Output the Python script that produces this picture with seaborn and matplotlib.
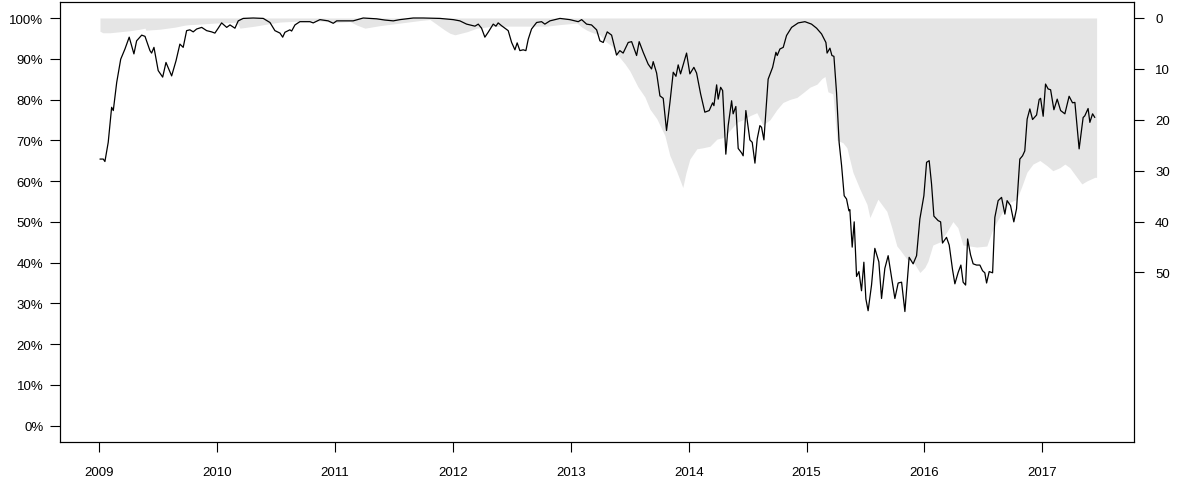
import matplotlib
matplotlib.use("Agg")
import matplotlib.pyplot as plt
import pandas as pd
import seaborn as sns
from matplotlib.ticker import FuncFormatter

# black line: share (%) on the left axis
line_years = [
    2009.006, 2009.034, 2009.048, 2009.076, 2009.105, 2009.119, 2009.148, 2009.182, 2009.218, 2009.254,
    2009.294, 2009.317, 2009.360, 2009.388, 2009.430, 2009.444, 2009.464, 2009.500, 2009.538, 2009.566,
    2009.614, 2009.651, 2009.684, 2009.712, 2009.741, 2009.769, 2009.797, 2009.826, 2009.869, 2009.911,
    2009.953, 2009.981, 2010.009, 2010.038, 2010.081, 2010.109, 2010.151, 2010.179, 2010.221, 2010.306,
    2010.391, 2010.448, 2010.490, 2010.533, 2010.556, 2010.575, 2010.617, 2010.632, 2010.660, 2010.702,
    2010.787, 2010.815, 2010.872, 2010.942, 2010.985, 2011.014, 2011.154, 2011.239, 2011.353, 2011.423,
    2011.494, 2011.550, 2011.663, 2011.748, 2011.890, 2012.003, 2012.059, 2012.116, 2012.187, 2012.215,
    2012.243, 2012.271, 2012.299, 2012.342, 2012.365, 2012.384, 2012.413, 2012.441, 2012.469, 2012.498,
    2012.526, 2012.545, 2012.568, 2012.596, 2012.619, 2012.639, 2012.667, 2012.710, 2012.752, 2012.780,
    2012.823, 2012.908, 2012.992, 2013.063, 2013.092, 2013.134, 2013.176, 2013.219, 2013.247, 2013.275,
    2013.309, 2013.346, 2013.388, 2013.416, 2013.444, 2013.487, 2013.516, 2013.558, 2013.580, 2013.614,
    2013.656, 2013.685, 2013.699, 2013.728, 2013.756, 2013.784, 2013.812, 2013.841, 2013.869, 2013.892,
    2013.911, 2013.931, 2013.982, 2014.010, 2014.044, 2014.067, 2014.101, 2014.137, 2014.174, 2014.203,
    2014.214, 2014.237, 2014.250, 2014.271, 2014.288, 2014.315, 2014.335, 2014.364, 2014.377, 2014.400,
    2014.420, 2014.449, 2014.462, 2014.485, 2014.519, 2014.539, 2014.562, 2014.581, 2014.604, 2014.618,
    2014.638, 2014.674, 2014.712, 2014.740, 2014.751, 2014.774, 2014.802, 2014.830, 2014.873, 2014.929,
    2014.986, 2015.042, 2015.085, 2015.127, 2015.164, 2015.174, 2015.198, 2015.215, 2015.232, 2015.254,
    2015.276, 2015.297, 2015.319, 2015.339, 2015.359, 2015.367, 2015.387, 2015.404, 2015.424, 2015.444,
    2015.466, 2015.486, 2015.503, 2015.522, 2015.551, 2015.579, 2015.613, 2015.636, 2015.664, 2015.692,
    2015.721, 2015.749, 2015.777, 2015.806, 2015.834, 2015.870, 2015.904, 2015.933, 2015.961, 2015.995,
    2016.018, 2016.040, 2016.060, 2016.080, 2016.116, 2016.137, 2016.153, 2016.187, 2016.210, 2016.238,
    2016.258, 2016.286, 2016.309, 2016.328, 2016.349, 2016.366, 2016.391, 2016.413, 2016.442, 2016.470,
    2016.493, 2016.512, 2016.527, 2016.549, 2016.578, 2016.597, 2016.625, 2016.654, 2016.682, 2016.701,
    2016.730, 2016.758, 2016.781, 2016.809, 2016.832, 2016.851, 2016.871, 2016.894, 2016.917, 2016.951,
    2016.973, 2016.985, 2017.007, 2017.027, 2017.049, 2017.070, 2017.098, 2017.126, 2017.155, 2017.191,
    2017.227, 2017.256, 2017.276, 2017.312, 2017.346, 2017.360, 2017.388, 2017.403, 2017.426, 2017.445,
]
line_pct = [
    65.4, 65.4, 64.8, 69.5, 78.1, 77.3, 84.2, 89.9, 92.4, 95.3,
    91.2, 94.4, 95.8, 95.5, 92.0, 91.4, 92.8, 87.1, 85.5, 89.1,
    85.8, 89.5, 93.6, 92.8, 96.9, 97.1, 96.6, 97.3, 97.7, 96.9,
    96.6, 96.3, 97.5, 98.8, 97.7, 98.3, 97.5, 99.3, 99.9, 100.0,
    99.9, 98.9, 96.9, 96.3, 95.3, 96.5, 97.1, 96.8, 98.3, 99.1,
    99.1, 98.8, 99.6, 99.3, 98.7, 99.3, 99.3, 100.0, 99.8, 99.5,
    99.3, 99.6, 100.0, 100.0, 99.9, 99.6, 99.3, 98.5, 98.0, 98.5,
    97.5, 95.3, 96.5, 98.5, 98.0, 98.8, 98.1, 97.5, 96.9, 94.0,
    92.2, 93.9, 92.0, 92.2, 92.0, 94.8, 97.3, 98.9, 99.1, 98.5,
    99.3, 99.9, 99.6, 99.1, 99.6, 98.5, 98.3, 97.1, 94.4, 94.0,
    96.6, 95.8, 90.9, 92.0, 91.4, 94.0, 94.2, 90.8, 94.2, 91.6,
    88.7, 87.5, 89.3, 86.5, 80.9, 80.3, 72.4, 79.3, 86.7, 85.7,
    88.5, 86.3, 91.4, 86.3, 87.9, 86.5, 81.4, 76.9, 77.3, 79.2,
    78.5, 83.6, 80.1, 83.0, 82.2, 66.6, 73.6, 79.7, 76.5, 78.3,
    68.0, 66.9, 66.2, 77.3, 70.1, 69.5, 64.4, 70.3, 73.6, 73.2,
    70.1, 85.0, 87.9, 91.6, 90.8, 92.4, 92.8, 95.7, 97.7, 98.8,
    99.1, 98.5, 97.5, 96.1, 94.0, 91.4, 92.6, 90.8, 90.6, 81.8,
    69.5, 63.8, 56.4, 55.6, 52.7, 53.0, 43.8, 50.0, 36.6, 37.8,
    33.1, 40.1, 31.1, 28.2, 34.5, 43.5, 40.2, 31.2, 38.6, 41.7,
    36.4, 31.2, 35.0, 35.2, 28.0, 41.3, 39.7, 41.7, 50.7, 56.4,
    64.6, 65.0, 59.3, 51.4, 50.3, 50.0, 44.8, 46.2, 44.3, 38.3,
    34.8, 37.6, 39.4, 35.2, 34.5, 45.8, 41.9, 39.7, 39.4, 39.4,
    38.0, 37.5, 35.0, 37.8, 37.5, 51.1, 55.2, 56.0, 51.9, 55.2,
    54.0, 50.0, 53.2, 65.4, 66.2, 67.4, 75.2, 77.7, 75.1, 76.2,
    80.0, 80.3, 75.9, 83.8, 82.6, 82.4, 77.5, 80.1, 77.3, 76.5,
    80.8, 79.2, 79.3, 67.9, 75.6, 76.0, 77.8, 74.4, 76.5, 75.6,
]

# grey area: depth on the inverted right axis
gray_years = [
    2009.006, 2009.031, 2009.091, 2009.176, 2009.261, 2009.346, 2009.388, 2009.396, 2009.515, 2009.642,
    2009.727, 2009.769, 2009.854, 2009.981, 2010.109, 2010.168, 2010.193, 2010.321, 2010.448, 2010.533,
    2010.617, 2010.702, 2010.872, 2010.999, 2011.126, 2011.186, 2011.254, 2011.381, 2011.551, 2011.720,
    2011.805, 2011.848, 2011.890, 2011.933, 2011.975, 2012.017, 2012.119, 2012.204, 2012.314, 2012.484,
    2012.653, 2012.797, 2012.908, 2013.052, 2013.094, 2013.136, 2013.187, 2013.247, 2013.289, 2013.348,
    2013.391, 2013.459, 2013.501, 2013.569, 2013.628, 2013.671, 2013.730, 2013.798, 2013.840, 2013.899,
    2013.950, 2013.976, 2014.010, 2014.069, 2014.120, 2014.180, 2014.239, 2014.290, 2014.349, 2014.408,
    2014.460, 2014.519, 2014.578, 2014.629, 2014.689, 2014.748, 2014.799, 2014.858, 2014.918, 2014.969,
    2015.028, 2015.088, 2015.130, 2015.156, 2015.181, 2015.223, 2015.257, 2015.308, 2015.342, 2015.393,
    2015.452, 2015.512, 2015.537, 2015.605, 2015.681, 2015.723, 2015.766, 2015.791, 2015.851, 2015.902,
    2015.961, 2016.003, 2016.029, 2016.071, 2016.131, 2016.190, 2016.241, 2016.283, 2016.326, 2016.385,
    2016.444, 2016.529, 2016.571, 2016.614, 2016.665, 2016.725, 2016.784, 2016.827, 2016.869, 2016.920,
    2016.979, 2017.039, 2017.089, 2017.149, 2017.191, 2017.233, 2017.293, 2017.335, 2017.378, 2017.445,
    2017.460,
]
gray_depth = [
    2.6, 2.9, 2.9, 2.7, 2.5, 2.2, 2.0, 2.4, 2.2, 1.8,
    1.4, 1.3, 1.2, 1.0, 0.9, 0.8, 2.0, 1.6, 1.1, 0.8,
    0.7, 0.6, 0.6, 0.9, 0.7, 1.4, 2.0, 1.5, 1.0, 0.5,
    0.3, 1.0, 1.7, 2.4, 3.0, 3.3, 2.7, 2.0, 1.7, 1.6,
    1.6, 1.6, 1.3, 1.0, 1.8, 2.4, 2.9, 3.3, 4.5, 5.5,
    7.1, 9.0, 10.4, 13.5, 15.5, 17.9, 19.8, 23.1, 27.0, 30.2,
    33.3, 30.5, 27.7, 25.7, 25.5, 25.2, 23.8, 23.5, 22.1, 20.5,
    20.0, 19.2, 18.6, 21.0, 20.0, 18.0, 16.6, 16.0, 15.6, 14.7,
    13.6, 13.0, 11.9, 11.5, 14.5, 14.9, 24.0, 24.5, 25.5, 30.3,
    33.6, 36.6, 39.2, 35.6, 38.0, 41.2, 44.8, 45.5, 47.4, 47.8,
    50.0, 49.0, 47.8, 44.6, 44.0, 42.0, 40.0, 41.2, 44.6, 44.8,
    45.0, 44.8, 42.0, 40.0, 38.0, 36.2, 35.6, 33.0, 30.3, 28.7,
    28.0, 29.0, 30.0, 29.4, 28.7, 29.4, 31.3, 32.6, 32.0, 31.3,
    31.3,
]

year_ticks = list(range(2009, 2018))
pct_ticks = list(range(0, 101, 10))
depth_ticks = [0, 10, 20, 30, 40, 50]

line_df = pd.DataFrame({"year": line_years, "pct": line_pct})
gray_df = pd.DataFrame({"year": gray_years, "depth": gray_depth})

sns.set_style("ticks")
plt.rcParams["font.family"] = ["Liberation Sans", "DejaVu Sans"]

fig = plt.figure(figsize=(11.78, 4.81), dpi=100)
ax = fig.add_axes([60 / 1178, 1 - 443 / 481, 1074.3 / 1178, 440.3 / 481])
ax2 = ax.twinx()

ax2.fill_between(gray_df["year"], 0, gray_df["depth"], color="#e5e5e5", lw=0)
ax2.set_ylim(83.3, -3.2)
ax2.set_yticks(depth_ticks)

sns.lineplot(data=line_df, x="year", y="pct", ax=ax, color="black", linewidth=0.9,
             estimator=None, sort=False)
ax.set_zorder(ax2.get_zorder() + 1)
ax.patch.set_visible(False)

ax.set_xlim(2008.667, 2017.78)
ax.set_ylim(-4, 104)
ax.set_xticks(year_ticks)
ax.set_yticks(pct_ticks)
ax.yaxis.set_major_formatter(FuncFormatter(lambda v, _: f"{v:.0f}%"))
ax.set_xlabel("")
ax.set_ylabel("")

tick_kw = dict(direction="out", length=7, width=0.8, labelsize=9.5,
               color="black", labelcolor="black")
ax.tick_params(axis="x", pad=10, **tick_kw)
ax.tick_params(axis="y", pad=5, **tick_kw)
ax2.tick_params(axis="y", pad=8, **tick_kw)

for a in (ax, ax2):
    for s in a.spines.values():
        s.set_visible(True)
        s.set_linewidth(0.8)
        s.set_color("black")

fig.savefig("out.png", dpi=100)
